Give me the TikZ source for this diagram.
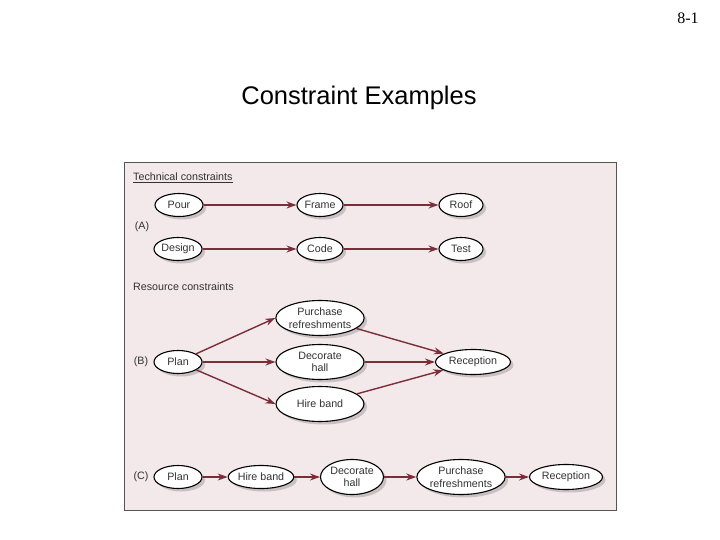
\documentclass[tikz,border=0pt]{standalone}
\usepackage{fontspec}
\setmainfont{Liberation Sans}
\newfontfamily\serifnum{Liberation Serif}
\usetikzlibrary{shapes.geometric,shadows,arrows.meta}
\definecolor{bg}{HTML}{F3E8EA}
\definecolor{arr}{HTML}{7B2D3A}
\definecolor{txt}{HTML}{333333}
\definecolor{frame}{HTML}{555555}
\begin{document}
\begin{tikzpicture}[x=1pt,y=-1pt,
  ev/.style={ellipse, draw=black, line width=1.1pt, fill=white, inner sep=0pt,
    minimum width=48pt, minimum height=23pt, align=center,
    font=\fontsize{10.7}{12.5}\selectfont, text=txt,
    drop shadow={shadow xshift=3pt, shadow yshift=-3pt, opacity=0.3, fill=black!60}},
  big/.style={minimum width=88pt, minimum height=35pt},
  lbl/.style={font=\fontsize{10.7}{12}\selectfont, text=txt, inner sep=0pt},
  arrow/.style={draw=arr, line width=1.4pt, -{Stealth[length=10pt,width=7pt]}}
]
\useasboundingbox (0,0) rectangle (720,540);
\fill[white] (0,0) rectangle (720,540);
\node[font=\serifnum\fontsize{16}{18}\selectfont] (pg) at (688,18) {8-1};
\node[font=\fontsize{25.5}{30}\selectfont] (title) at (359,98) {Constraint Examples};
\filldraw[fill=bg, draw=frame, line width=1pt] (124,163) rectangle (616,510);
\node[lbl, anchor=west] (tc) at (133,178) {\underline{Technical constraints}};
\node[lbl, anchor=west] (rc) at (133,287) {Resource constraints};
\node[lbl] (la) at (142,227) {(A)};
\node[lbl] (lb) at (141,362) {(B)};
\node[lbl] (lc) at (141,477) {(C)};
% A
\node[ev] (pour) at (179,205) {Pour};
\node[ev, minimum width=46pt] (frame) at (320,205) {Frame};
\node[ev, minimum width=44pt] (roof) at (461,205) {Roof};
\node[ev] (design) at (178,249) {Design};
\node[ev, minimum width=46pt] (code) at (320,249) {Code};
\node[ev, minimum width=44pt] (test) at (461,249) {Test};
\draw[arrow] (pour) -- (frame);
\draw[arrow] (frame) -- (roof);
\draw[arrow] (design) -- (code);
\draw[arrow] (code) -- (test);
% B
\node[ev] (bplan) at (178,362) {Plan};
\node[ev, big] (bpur) at (320,318) {Purchase\\refreshments};
\node[ev, big] (bdec) at (320,362) {Decorate\\hall};
\node[ev, big] (bhire) at (320,404) {Hire band};
\node[ev, minimum width=75pt, minimum height=25pt] (brec) at (473,362) {Reception};
\draw[arrow] (bplan) -- (bpur.west);
\draw[arrow] (bplan) -- (bdec.west);
\draw[arrow] (bplan) -- (bhire.west);
\draw[arrow] (bpur) -- (brec);
\draw[arrow] (bdec) -- (brec);
\draw[arrow] (bhire) -- (brec);
% C
\node[ev] (cplan) at (178,477) {Plan};
\node[ev, minimum width=62pt] (chire) at (261,477) {Hire band};
\node[ev, minimum width=63pt, minimum height=35pt] (cdec) at (352,477) {Decorate\\hall};
\node[ev, minimum width=88pt, minimum height=35pt] (cpur) at (461,477) {Purchase\\refreshments};
\node[ev, minimum width=73pt, minimum height=25pt] (crec) at (566,477) {Reception};
\draw[arrow] (cplan) -- (chire);
\draw[arrow] (chire) -- (cdec);
\draw[arrow] (cdec) -- (cpur);
\draw[arrow] (cpur) -- (crec);
\end{tikzpicture}
\end{document}
